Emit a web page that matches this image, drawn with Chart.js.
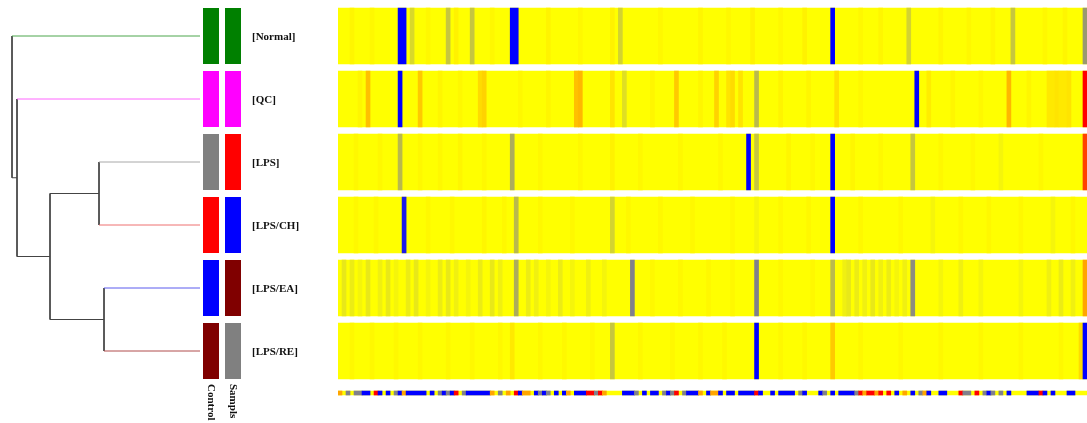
<!DOCTYPE html>
<html lang="en">
<head>
<meta charset="utf-8">
<script src="https://cdn.jsdelivr.net/npm/chart.js@4.4.0/dist/chart.umd.min.js"></script>
<style>
  body { margin: 0; background: #fff; }
  #wrap { position: relative; width: 1087px; height: 423px; overflow: hidden; }
  #wrap canvas { position: absolute; top: 0; }
</style>
</head>
<body>
<div id="wrap">
  <canvas id="tree" width="200" height="423" style="left:0"></canvas>
  <canvas id="groups" width="135" height="423" style="left:200px"></canvas>
  <canvas id="heat" width="749" height="423" style="left:338px"></canvas>
</div>
<script>
    // ---- data ----
    const groups = ['[Normal]', '[QC]', '[LPS]', '[LPS/CH]', '[LPS/EA]', '[LPS/RE]'];
    const sideLabels = ['Control', 'Sampls'];
    const controlColors = ['#008000', '#ff00ff', '#808080', '#ff0000', '#0000ff', '#800000'];
    const sampleColors  = ['#008000', '#ff00ff', '#ff0000', '#0000ff', '#800000', '#808080'];

    // dendrogram, linkage style: [childA, childB, height]; ids >= 6 are earlier merges
    const linkage = [
        [2, 3, 1.01],
        [4, 5, 0.96],
        [6, 7, 1.50],
        [1, 8, 1.83],
        [0, 9, 1.88]
    ];
    const leafLineColors = ['#4ca64c', '#ff66ff', '#a8a8a8', '#ee7070', '#5a5aee', '#b04c4c'];

    const nCols = 187;
    // per row: [column, value]; every other column is 0
    const normalCells = [[3,0.1],[8,0.08],[15,-2],[16,-2],[18,-0.3],[22,0.08],[27,-0.45],[29,0.15],[33,-0.45],[38,0.08],
        [43,-2],[44,-2],[52,0.12],[60,0.08],[68,0.15],[70,-0.35],[80,0.08],[90,0.1],[97,0.08],[103,0.15],[110,0.08],
        [116,0.15],[123,-2],[130,0.08],[135,0.1],[142,-0.35],[150,0.1],[157,0.08],[163,0.1],[168,-0.45],[176,0.08],[181,0.1],[186,-0.8]];
    const qcCells = [[5,0.1],[7,0.7],[15,-2],[20,0.6],[25,0.1],[30,0.08],[35,0.4],[36,0.5],[45,0.08],[52,0.1],[59,0.7],
        [60,0.8],[68,0.3],[71,-0.25],[78,0.1],[84,0.6],[90,0.1],[94,0.5],[97,0.3],[98,0.4],[100,0.3],[104,-0.55],[110,0.12],
        [117,0.1],[124,0.35],[130,0.08],[144,-2],[147,0.2],[153,0.1],[160,0.08],[167,0.8],[172,0.1],[177,0.25],[178,0.25],
        [179,0.3],[180,0.25],[181,0.25],[182,0.3],[186,2]];
    const lpsCells = [[4,0.08],[10,0.08],[15,-0.55],[20,0.08],[25,0.08],[30,0.1],[36,0.08],[43,-0.65],[50,0.08],[60,0.08],
        [68,0.15],[75,0.08],[85,0.08],[95,0.08],[102,-2],[104,-0.45],[112,0.1],[118,0.08],[123,-2],[128,0.1],[135,0.08],
        [143,-0.45],[150,0.08],[158,0.08],[165,-0.08],[175,0.08],[186,1.6]];
    const lpsChCells = [[4,0.08],[9,0.08],[16,-1.8],[22,0.08],[28,0.08],[36,0.1],[41,0.08],[44,-0.55],[50,0.08],[58,0.08],
        [68,-0.35],[72,0.08],[80,0.08],[88,0.08],[98,0.08],[104,-0.08],[110,0.08],[117,0.08],[123,-2],[130,0.08],[140,0.08],
        [148,-0.08],[155,0.08],[162,0.08],[170,0.08],[178,-0.08],[183,0.08]];
    const lpsEaCells = [[1,-0.18],[3,-0.15],[5,-0.08],[7,-0.18],[10,-0.12],[12,-0.18],[14,-0.08],[17,-0.15],[19,-0.18],[22,-0.08],
        [25,-0.15],[27,-0.18],[29,-0.12],[32,-0.08],[35,-0.15],[38,-0.18],[40,-0.12],[44,-0.65],[47,-0.15],[49,-0.12],[52,-0.08],
        [55,-0.15],[58,-0.08],[62,-0.12],[66,-0.08],[73,-1],[78,0.08],[85,0.08],[92,0.08],[98,0.08],[104,-1],[110,0.08],
        [118,0.08],[123,-0.55],[126,-0.12],[127,-0.18],[129,-0.15],[131,-0.12],[133,-0.18],[135,-0.12],[137,-0.15],[139,-0.08],
        [141,-0.12],[143,-0.9],[150,-0.08],[155,-0.12],[160,-0.08],[170,-0.08],[177,-0.12],[180,-0.15],[183,-0.12],[186,1]];
    const lpsReCells = [[3,0.08],[8,0.08],[14,0.08],[20,0.08],[27,0.08],[33,0.08],[40,0.08],[43,0.25],[50,0.08],[56,0.08],
        [63,0.08],[68,-0.45],[75,0.08],[83,0.08],[90,0.08],[96,0.08],[104,-2],[110,0.08],[116,0.08],[123,0.6],[130,0.08],
        [140,0.08],[150,0.08],[160,0.08],[170,0.08],[180,0.08],[185,0.4],[186,-2]];

    // column colour bar under the heatmap: b=-2 g=-1 y=0 o=1 r=2
    const stripCodes =
        'oygyggbbyr' + 'bybygbobbb' + 'bbybygbgbr' + 'ygbbbbbboy' + 'gyoyrbo' +
        'oybgbgybyb' + 'oybbbrrgro' + 'yyyybbbgyb' + 'ybbygbgryg' + 'bbboybo' +
        'obybbybbbb' + 'rbyybybbbb' + 'ygbyyybgyb' + 'ybbbbgrorr' + 'oryryby' +
        'oybygobyyb' + 'byyyrggyry' + 'gbgygybyyy' + 'ybbbrbybyy' + 'ybbyyy';
    const codeValue = { b: -2, g: -1, y: 0, o: 1, r: 2 };

    // ---- layout / style ----
    const PAD = { top: 4.5, bottom: 40.5, left: 0, right: 0 };
    const ROW_FILL = 0.89;
    const STRIP_Y = 5.667;
    const labelFont = 'bold 11px "Liberation Serif"';

    const colorStops = [[-2, [0, 0, 255]], [-1, [128, 128, 140]], [0, [255, 255, 0]], [1, [255, 165, 0]], [2, [255, 0, 0]]];
    function heatColor(v) {
        if (v <= colorStops[0][0]) return 'rgb(' + colorStops[0][1].join(',') + ')';
        for (let i = 1; i < colorStops.length; i++) {
            const [v1, c1] = colorStops[i];
            const [v0, c0] = colorStops[i - 1];
            if (v <= v1) {
                const t = (v - v0) / (v1 - v0);
                const c = c0.map((a, k) => Math.round(a + (c1[k] - a) * t));
                return 'rgb(' + c.join(',') + ')';
            }
        }
        return 'rgb(' + colorStops[colorStops.length - 1][1].join(',') + ')';
    }

    // ---- dendrogram ----
    const nodes = groups.map((g, i) => ({ x: 0, y: i, leaf: i }));
    const segments = [];
    linkage.forEach(([a, b, h]) => {
        const na = nodes[a], nb = nodes[b];
        [na, nb].forEach(n => segments.push({
            pts: [{ x: n.x, y: n.y }, { x: h, y: n.y }],
            color: n.leaf !== undefined ? leafLineColors[n.leaf] : '#444'
        }));
        segments.push({ pts: [{ x: h, y: na.y }, { x: h, y: nb.y }], color: '#444' });
        nodes.push({ x: h, y: (na.y + nb.y) / 2 });
    });

    new Chart(document.getElementById('tree'), {
        type: 'scatter',
        data: {
            datasets: segments.map(s => ({
                data: s.pts, showLine: true, borderColor: s.color, borderWidth: 1,
                pointRadius: 0, clip: false
            }))
        },
        options: {
            responsive: false, animation: false,
            layout: { padding: PAD },
            plugins: { legend: { display: false }, tooltip: { enabled: false } },
            scales: {
                x: { type: 'linear', min: 0, max: 2, reverse: true, display: false },
                y: { type: 'linear', min: -0.5, max: 5.5, reverse: true, display: false }
            }
        }
    });

    // ---- side colour boxes + group names ----
    const sideText = {
        id: 'sideText',
        afterDraw(chart) {
            const ctx = chart.ctx, xs = chart.scales.x, ys = chart.scales.y;
            ctx.save();
            ctx.font = labelFont;
            ctx.fillStyle = '#111';
            ctx.textAlign = 'left';
            ctx.textBaseline = 'middle';
            groups.forEach((g, i) => {
                ctx.fillText(g, chart.chartArea.right + 8, ys.getPixelForValue(i) + 1);
            });
            sideLabels.forEach((t, i) => {
                ctx.save();
                ctx.translate(xs.getPixelForValue(i), 384);
                ctx.rotate(Math.PI / 2);
                ctx.fillText(t, 0, 0);
                ctx.restore();
            });
            ctx.restore();
        }
    };

    new Chart(document.getElementById('groups'), {
        type: 'bar',
        data: {
            labels: sideLabels,
            datasets: groups.map((g, i) => ({
                data: [[i - ROW_FILL / 2, i + ROW_FILL / 2], [i - ROW_FILL / 2, i + ROW_FILL / 2]],
                backgroundColor: [controlColors[i], sampleColors[i]],
                grouped: false, barPercentage: 0.727, categoryPercentage: 1
            }))
        },
        options: {
            responsive: false, animation: false,
            layout: { padding: { top: PAD.top, bottom: PAD.bottom, left: 0, right: 91 } },
            plugins: { legend: { display: false }, tooltip: { enabled: false } },
            scales: {
                x: { display: false },
                y: { type: 'linear', min: -0.5, max: 5.5, reverse: true, display: false }
            }
        },
        plugins: [sideText]
    });

    // ---- heatmap ----
    const rowCells = [normalCells, qcCells, lpsCells, lpsChCells, lpsEaCells, lpsReCells];

    // merge neighbouring columns with the same value into one bar
    function runs(values, y) {
        const out = [];
        let start = 0;
        for (let c = 1; c <= values.length; c++) {
            if (c === values.length || values[c] !== values[start]) {
                if (values[start] !== 0) out.push({ x: [start, c], y: y, v: values[start] });
                start = c;
            }
        }
        return out;
    }

    const cellBars = [];
    rowCells.forEach((cells, r) => {
        const vals = new Array(nCols).fill(0);
        cells.forEach(([c, v]) => { vals[c] = v; });
        cellBars.push(...runs(vals, r));
    });
    const stripBars = runs(stripCodes.split('').map(ch => codeValue[ch]), STRIP_Y);

    new Chart(document.getElementById('heat'), {
        type: 'bar',
        data: {
            datasets: [
                {
                    order: 2,
                    data: groups.map((g, i) => ({ x: [0, nCols], y: i })),
                    backgroundColor: heatColor(0), barThickness: 56
                },
                {
                    order: 1,
                    data: cellBars,
                    backgroundColor: c => heatColor(c.raw.v), barThickness: 56
                },
                {
                    order: 2,
                    data: [{ x: [0, nCols], y: STRIP_Y }],
                    backgroundColor: heatColor(0), barThickness: 4, clip: false
                },
                {
                    order: 1,
                    data: stripBars,
                    backgroundColor: c => heatColor(c.raw.v), barThickness: 4, clip: false
                }
            ]
        },
        options: {
            indexAxis: 'y',
            responsive: false, animation: false,
            datasets: { bar: { grouped: false } },
            layout: { padding: PAD },
            plugins: { legend: { display: false }, tooltip: { enabled: false } },
            scales: {
                x: { type: 'linear', min: 0, max: nCols, display: false },
                y: { type: 'linear', min: -0.5, max: 5.5, reverse: true, offset: false, display: false }
            }
        }
    });
</script>
</body>
</html>
